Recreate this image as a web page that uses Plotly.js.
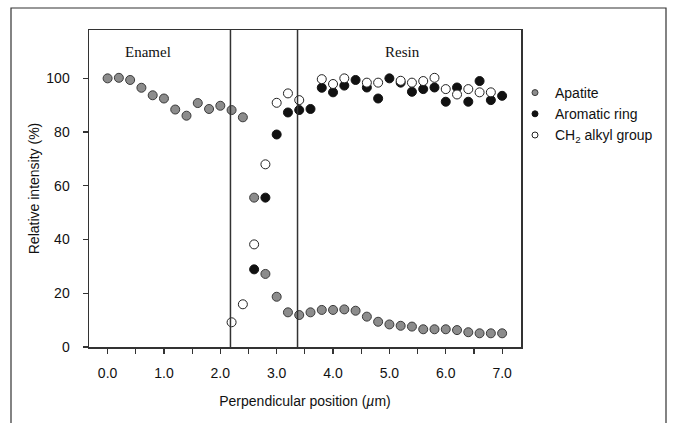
<!DOCTYPE html>
<html>
<head>
<meta charset="utf-8">
<script src="https://cdn.plot.ly/plotly-3.0.1.min.js"></script>
<style>html,body{margin:0;padding:0;background:#fff;}#chart{width:673px;height:423px;}</style>
</head>
<body>
<div id="chart"></div>
<script>
// Apatite series
const apatiteX = [0.0,0.2,0.4,0.6,0.8,1.0,1.2,1.4,1.6,1.8,2.0,2.2,2.4,2.6,2.8,3.0,3.2,3.4,3.6,3.8,4.0,4.2,4.4,4.6,4.8,5.0,5.2,5.4,5.6,5.8,6.0,6.2,6.4,6.6,6.8,7.0];
const apatiteY = [100,100.2,99.4,96.5,93.7,92.5,88.4,86.1,90.8,88.6,89.8,88.2,85.5,55.6,27.2,18.7,12.9,11.9,12.9,13.8,13.8,14.0,13.5,11.3,9.4,8.4,7.9,7.6,6.6,6.6,6.6,6.3,5.5,5.1,5.1,5.1];
// Aromatic ring series
const aromaticX = [2.6,2.8,3.0,3.2,3.4,3.6,3.8,4.0,4.2,4.4,4.6,4.8,5.0,5.2,5.4,5.6,5.8,6.0,6.2,6.4,6.6,6.8,7.0];
const aromaticY = [28.9,55.6,79.1,87.3,88.2,88.6,96.5,94.8,97.3,99.4,96.6,92.5,100,98.4,95.0,96.0,96.6,91.3,96.6,91.3,99.0,91.9,93.5];
// CH2 alkyl group series
const ch2X = [2.2,2.4,2.6,2.8,3.0,3.2,3.4,3.8,4.0,4.2,4.6,4.8,5.2,5.4,5.6,5.8,6.0,6.2,6.4,6.6,6.8];
const ch2Y = [9.2,15.9,38.2,68.0,90.9,94.4,91.9,99.7,97.9,100,98.4,98.4,99.1,98.4,99.0,100.2,96.0,94.0,96.0,94.8,94.8];
// Tick labels
const xTickVals = [0,1,2,3,4,5,6,7];
const xTickText = ["0.0","1.0","2.0","3.0","4.0","5.0","6.0","7.0"];
const yTickVals = [0,20,40,60,80,100];
const yTickText = ["0","20","40","60","80","100"];
// Region boundaries and labels
const boundaries = [2.18, 3.37];
const regionNames = ["Enamel","Resin"];
const regionX = [0.72, 5.24];
const seriesNames = ["Apatite","Aromatic ring","CH<sub>2</sub> alkyl group"];

const font = "Liberation Sans, Arial, Helvetica, sans-serif";
const apatiteMarker = {symbol:"circle", size:9, color:"#8c8c8c", line:{color:"#3a3a3a", width:1}};
const aromaticMarker = {symbol:"circle", size:9, color:"#111111", line:{color:"#111111", width:1}};
const ch2Marker = {symbol:"circle", size:9, color:"#ffffff", line:{color:"#222222", width:1}};

const traces = [
  {x:apatiteX, y:apatiteY, type:"scatter", mode:"markers", name:seriesNames[0], marker:apatiteMarker, showlegend:false},
  {x:aromaticX, y:aromaticY, type:"scatter", mode:"markers", name:seriesNames[1], marker:aromaticMarker, showlegend:false},
  {x:ch2X, y:ch2Y, type:"scatter", mode:"markers", name:seriesNames[2], marker:ch2Marker, showlegend:false},
  {x:[null], y:[null], type:"scatter", mode:"markers", name:seriesNames[0], marker:Object.assign({}, apatiteMarker, {size:6})},
  {x:[null], y:[null], type:"scatter", mode:"markers", name:seriesNames[1], marker:Object.assign({}, aromaticMarker, {size:6})},
  {x:[null], y:[null], type:"scatter", mode:"markers", name:seriesNames[2], marker:Object.assign({}, ch2Marker, {size:6})}
];

const L = 89, R = 521, T = 30, B = 347, W = 673, H = 423;
const pw = R - L, ph = B - T;
const px = v => (v - L) / pw;
const py = v => (B - v) / ph;

const shapes = boundaries.map(b => ({type:"line", xref:"x", yref:"paper", x0:b, x1:b, y0:0, y1:1, line:{color:"#333333", width:1.5}}));
shapes.push({type:"rect", xref:"paper", yref:"paper", x0:px(11), x1:px(666), y0:py(440), y1:py(8), line:{color:"#333333", width:1.2}, fillcolor:"rgba(0,0,0,0)", layer:"below"});

const annotations = regionNames.map((n,i) => ({x:regionX[i], y:py(42), xref:"x", yref:"paper", text:n, showarrow:false, font:{family:"Liberation Serif, Times New Roman, serif", size:15, color:"#111"}}));

const layout = {
  width:W, height:H,
  margin:{l:L, r:W-R, t:T, b:H-B, pad:0, autoexpand:false},
  paper_bgcolor:"#ffffff", plot_bgcolor:"#ffffff",
  showlegend:true,
  legend:{x:px(515), y:py(77), xanchor:"left", yanchor:"top", font:{family:font, size:14, color:"#111"}, itemwidth:30, bgcolor:"rgba(0,0,0,0)", tracegroupgap:0},
  xaxis:{
    range:[-0.33, 7.335], tickvals:xTickVals, ticktext:xTickText,
    minor:{tickvals:[0.5,1.5,2.5,3.5,4.5,5.5,6.5], ticks:"outside", ticklen:5, tickwidth:1.2, tickcolor:"#333333", showgrid:false},
    showgrid:false, zeroline:false, showline:true, mirror:true, linecolor:"#333333", linewidth:1.5,
    ticks:"outside", ticklen:5, tickwidth:1.2, tickcolor:"#333333", ticklabelstandoff:8,
    tickfont:{family:font, size:14, color:"#111"},
    title:{text:"Perpendicular position (<i>µ</i>m)", font:{family:font, size:14, color:"#111"}, standoff:16}
  },
  yaxis:{
    range:[0, 118], tickvals:yTickVals, ticktext:yTickText,
    showgrid:false, zeroline:false, showline:true, mirror:true, linecolor:"#333333", linewidth:1.5,
    ticks:"outside", ticklen:5, tickwidth:1.2, tickcolor:"#333333", ticklabelstandoff:10,
    tickfont:{family:font, size:14, color:"#111"},
    title:{text:"Relative intensity (%)", font:{family:font, size:14, color:"#111"}, standoff:3}
  },
  shapes:shapes,
  annotations:annotations
};

Plotly.newPlot("chart", traces, layout, {staticPlot:true, displayModeBar:false});
</script>
</body>
</html>
